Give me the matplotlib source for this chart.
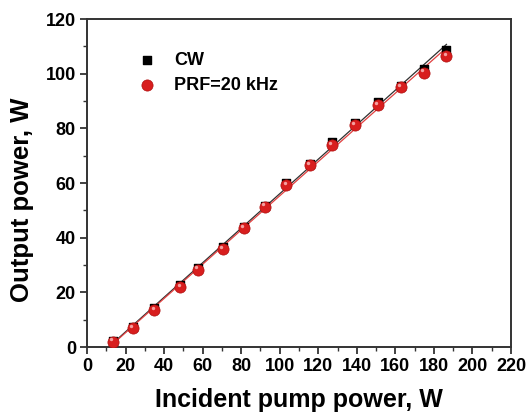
import numpy as np
import matplotlib
matplotlib.use('Agg')
from matplotlib import pyplot as plt
from matplotlib.ticker import MultipleLocator

# data
pump = [13.5, 24, 35, 48.5, 57.5, 70.5, 81.5, 92.5, 103.5, 115.5, 127, 139, 151, 163, 175, 186.5]
cw = [2.3, 7.3, 14.2, 22.6, 28.8, 36.6, 43.9, 51.6, 60.0, 67.0, 75.0, 82.0, 89.6, 95.6, 101.7, 108.6]
prf = [2.0, 6.8, 13.4, 22.0, 28.3, 35.8, 43.6, 51.4, 59.2, 66.5, 74.0, 81.3, 88.4, 95.1, 100.4, 106.5]

plt.rcParams['font.family'] = ['Liberation Sans', 'DejaVu Sans']
plt.rcParams['font.weight'] = 'bold'

fig = plt.figure(figsize=(5.27, 4.13), dpi=100)
ax = fig.add_axes([87/527, 1 - 347/413, 424/527, 328/413])

# linear fits
xf = np.array([14.5, 186.5])
for y, c in [(cw, '#303030'), (prf, '#e04040')]:
    k, b = np.polyfit(pump, y, 1)
    ax.plot(xf, k * xf + b, color=c, lw=0.9, zorder=2)

ax.scatter(pump, cw, marker='s', s=40, color='black', zorder=3, label='CW')
ax.scatter(pump, prf, marker='o', s=65, color='#d81e1e', edgecolors='#b01010', linewidths=0.5,
           zorder=4, label='PRF=20 kHz')
# small highlight on the spheres
ax.scatter(np.array(pump) - 1.0, np.array(prf) + 0.8, marker='o', s=6, color='#f4a0a0',
           linewidths=0, zorder=5)

ax.set_xlim(0, 220)
ax.set_ylim(0, 120)
ax.xaxis.set_major_locator(MultipleLocator(20))
ax.xaxis.set_minor_locator(MultipleLocator(10))
ax.yaxis.set_major_locator(MultipleLocator(20))
ax.yaxis.set_minor_locator(MultipleLocator(10))
ax.tick_params(which='major', direction='out', length=5, width=1.3, labelsize=13, colors='#333333',
               labelcolor='black', pad=3)
ax.tick_params(which='minor', direction='out', length=3, width=1.0, colors='#333333')
for lab in ax.get_xticklabels() + ax.get_yticklabels():
    lab.set_fontweight('bold')
for s in ax.spines.values():
    s.set_linewidth(1.4)
    s.set_color('#333333')

ax.set_xlabel('Incident pump power, W', fontsize=18, fontweight='bold', labelpad=9)
ax.set_ylabel('Output power, W', fontsize=18.5, fontweight='bold')
ax.yaxis.set_label_coords(-0.125, 0.45)

ax.legend(loc='upper left', bbox_to_anchor=(0.06, 0.95), frameon=False,
          handletextpad=0.5, labelspacing=0.45, prop={'weight': 'bold', 'size': 13})

fig.savefig('out.png', dpi=100)
